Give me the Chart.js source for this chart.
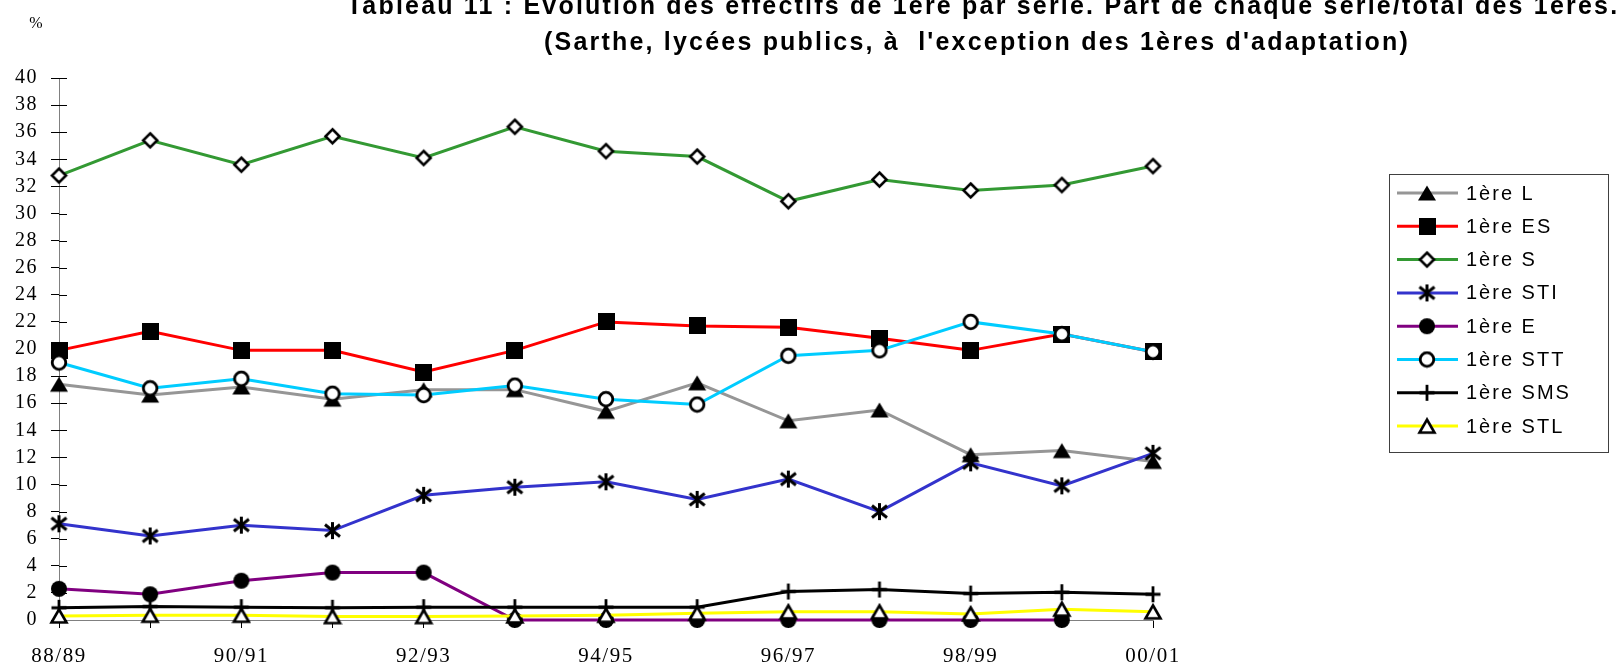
<!DOCTYPE html>
<html>
<head>
<meta charset="utf-8">
<script src="https://cdn.jsdelivr.net/npm/chart.js@4.4.1/dist/chart.umd.min.js"></script>
<style>
html,body{margin:0;padding:0;background:#fff;overflow:hidden}
#wrap{width:1616px;height:662px;position:relative}
</style>
</head>
<body>
<div id="wrap"><canvas id="c" width="1616" height="662"></canvas></div>
<script>
// ---------- data ----------
const categories = ['88/89','89/90','90/91','91/92','92/93','93/94','94/95','95/96','96/97','97/98','98/99','99/00','00/01'];
const xTickLabels = ['88/89','','90/91','','92/93','','94/95','','96/97','','98/99','','00/01'];
const yMin = 0, yMax = 40, yStep = 2;

const serieL   = [17.4, 16.6, 17.2, 16.3, 17.0, 17.0, 15.4, 17.5, 14.7, 15.5, 12.2, 12.5, 11.7];
const serieES  = [19.9, 21.3, 19.9, 19.9, 18.3, 19.9, 22.0, 21.7, 21.6, 20.8, 19.9, 21.1, 19.8];
const serieS   = [32.8, 35.4, 33.6, 35.7, 34.1, 36.4, 34.6, 34.2, 30.9, 32.5, 31.7, 32.1, 33.5];
const serieSTI = [7.1, 6.2, 7.0, 6.6, 9.2, 9.8, 10.2, 8.9, 10.4, 8.0, 11.6, 9.9, 12.3];
const serieE   = [2.3, 1.9, 2.9, 3.5, 3.5, 0, 0, 0, 0, 0, 0, 0, null];
const serieSTT = [19.0, 17.1, 17.8, 16.7, 16.6, 17.3, 16.3, 15.9, 19.5, 19.9, 22.0, 21.1, 19.8];
const serieSMS = [0.9, 1.0, 0.95, 0.9, 0.95, 0.95, 0.95, 0.95, 2.1, 2.25, 1.95, 2.05, 1.9];
const serieSTL = [0.3, 0.35, 0.35, 0.25, 0.25, 0.3, 0.35, 0.5, 0.6, 0.6, 0.45, 0.8, 0.6];

const seriesNames = ['1ère L','1ère ES','1ère S','1ère STI','1ère E','1ère STT','1ère SMS','1ère STL'];
const seriesValues = [serieL, serieES, serieS, serieSTI, serieE, serieSTT, serieSMS, serieSTL];
const seriesColors = ['#969696','#FF0000','#339933','#3333CC','#800080','#00CCFF','#000000','#FFFF00'];

const titleLines = ["Tableau 11 : Évolution des effectifs de 1ère par série. Part de chaque série/total des 1ères.",
                    "(Sarthe, lycées publics, à  l'exception des 1ères d'adaptation)"];
const unitLabel = '%';

// ---------- markers ----------
function mk(w, h, draw) {
  const c = document.createElement('canvas');
  c.width = w; c.height = h;
  const x = c.getContext('2d');
  x.lineJoin = 'miter';
  draw(x, w, h);
  return c;
}
const markerTriFilled = mk(20, 18, x => { x.beginPath(); x.moveTo(10, 1.5); x.lineTo(19, 16.5); x.lineTo(1, 16.5); x.closePath(); x.fillStyle = '#000'; x.fill(); });
const markerSquare = mk(17, 17, x => { x.fillStyle = '#000'; x.fillRect(0, 0, 17, 17); });
const markerDiamond = mk(19, 19, x => { x.beginPath(); x.moveTo(9.5, 2.5); x.lineTo(16.5, 9.5); x.lineTo(9.5, 16.5); x.lineTo(2.5, 9.5); x.closePath(); x.fillStyle = '#fff'; x.fill(); x.lineWidth = 2.6; x.strokeStyle = '#000'; x.stroke(); });
const markerAsterisk = mk(21, 21, x => { x.strokeStyle = '#000'; x.lineWidth = 3; x.beginPath(); x.moveTo(10.5, 2); x.lineTo(10.5, 19); x.moveTo(3, 4.5); x.lineTo(18, 16.5); x.moveTo(18, 4.5); x.lineTo(3, 16.5); x.stroke(); });
const markerCircleFilled = mk(18, 18, x => { x.beginPath(); x.arc(9, 9, 8, 0, Math.PI * 2); x.fillStyle = '#000'; x.fill(); });
const markerCircleOpen = mk(18, 18, x => { x.beginPath(); x.arc(9, 9, 6.8, 0, Math.PI * 2); x.fillStyle = '#fff'; x.fill(); x.lineWidth = 2.8; x.strokeStyle = '#000'; x.stroke(); });
const markerPlus = mk(18, 18, x => { x.strokeStyle = '#000'; x.lineWidth = 2.8; x.beginPath(); x.moveTo(9, 1); x.lineTo(9, 17); x.moveTo(1.5, 9); x.lineTo(16.5, 9); x.stroke(); });
const markerTriOpen = mk(20, 18, x => { x.beginPath(); x.moveTo(10, 2.5); x.lineTo(17.5, 15.5); x.lineTo(2.5, 15.5); x.closePath(); x.fillStyle = '#fff'; x.fill(); x.lineWidth = 2.6; x.strokeStyle = '#000'; x.stroke(); });
const seriesMarkers = [markerTriFilled, markerSquare, markerDiamond, markerAsterisk, markerCircleFilled, markerCircleOpen, markerPlus, markerTriOpen];

// ---------- plugins ----------
const serif = '"Liberation Serif", "Times New Roman", serif';
const sans = '"Liberation Sans", Arial, sans-serif';

const spacing = {
  id: 'spacing',
  beforeUpdate(chart) { chart.ctx.letterSpacing = '1.5px'; },
  beforeDraw(chart) { chart.ctx.letterSpacing = '1.5px'; }
};

const innerTicks = {
  id: 'innerTicks',
  beforeDatasetsDraw(chart) {
    const ctx = chart.ctx, ys = chart.scales.y, a = chart.chartArea;
    ctx.save();
    ctx.strokeStyle = '#000'; ctx.lineWidth = 1;
    ctx.beginPath();
    ys.ticks.forEach((t, i) => {
      const y = Math.round(ys.getPixelForTick(i)) + 0.5;
      ctx.moveTo(a.left, y); ctx.lineTo(a.left + 8, y);
    });
    ctx.stroke();
    ctx.restore();
  }
};

const decor = {
  id: 'decor',
  afterDraw(chart) {
    const ctx = chart.ctx;
    ctx.save();
    // title
    ctx.fillStyle = '#000';
    ctx.textAlign = 'center';
    ctx.textBaseline = 'alphabetic';
    ctx.font = 'bold 25px ' + sans;
    ctx.letterSpacing = '2.2px';
    ctx.fillText(titleLines[0], 983, 14);
    ctx.fillText(titleLines[1], 977, 50);
    // unit label
    ctx.letterSpacing = '0px';
    ctx.font = '16px ' + serif;
    ctx.textBaseline = 'middle';
    ctx.fillText(unitLabel, 36, 24);
    // legend
    const bx = 1389, by = 174, bw = 219, bh = 278;
    ctx.strokeStyle = '#404040'; ctx.lineWidth = 1;
    ctx.strokeRect(bx + 0.5, by + 0.5, bw, bh);
    ctx.font = '20px ' + sans;
    ctx.letterSpacing = '2px';
    ctx.textAlign = 'left';
    chart.data.datasets.forEach((ds, i) => {
      const y = 193 + i * 33.3;
      ctx.strokeStyle = ds.borderColor; ctx.lineWidth = 3;
      ctx.beginPath(); ctx.moveTo(1397, y); ctx.lineTo(1458, y); ctx.stroke();
      const m = ds.pointStyle;
      ctx.drawImage(m, 1427 - m.width / 2, y - m.height / 2);
      ctx.fillStyle = '#000';
      ctx.fillText(ds.label, 1466, y + 1);
    });
    ctx.restore();
  }
};

// ---------- chart ----------
const datasets = seriesNames.map((name, i) => ({
  label: name,
  data: seriesValues[i],
  borderColor: seriesColors[i],
  backgroundColor: seriesColors[i],
  borderWidth: 3,
  tension: 0,
  pointStyle: seriesMarkers[i],
  pointRadius: 9,
  pointHoverRadius: 9,
  spanGaps: false,
  clip: false,
  order: seriesNames.length - i
}));

new Chart(document.getElementById('c'), {
  type: 'line',
  data: { labels: categories, datasets },
  options: {
    responsive: false,
    animation: false,
    devicePixelRatio: 1,
    layout: { padding: { left: 0, right: 463, top: 78, bottom: 0 } },
    plugins: { legend: { display: false }, title: { display: false }, tooltip: { enabled: false } },
    scales: {
      x: {
        type: 'category',
        offset: false,
        afterFit: s => { s.height = 42; },
        border: { display: true, color: '#808080', width: 1 },
        grid: { display: true, drawOnChartArea: false, drawTicks: true, tickLength: 8, color: '#000', tickColor: '#000' },
        ticks: {
          autoSkip: false, maxRotation: 0, minRotation: 0, padding: 16,
          color: '#000', font: { family: serif, size: 21 },
          callback: (v, i) => xTickLabels[i]
        }
      },
      y: {
        min: yMin, max: yMax,
        afterFit: s => { s.width = 59; },
        border: { display: true, color: '#808080', width: 1 },
        grid: { display: true, drawOnChartArea: false, drawTicks: true, tickLength: 8, color: '#000', tickColor: '#000' },
        ticks: { stepSize: yStep, padding: 13, color: '#000', font: { family: serif, size: 20 } }
      }
    }
  },
  plugins: [spacing, innerTicks, decor]
});
</script>
</body>
</html>
